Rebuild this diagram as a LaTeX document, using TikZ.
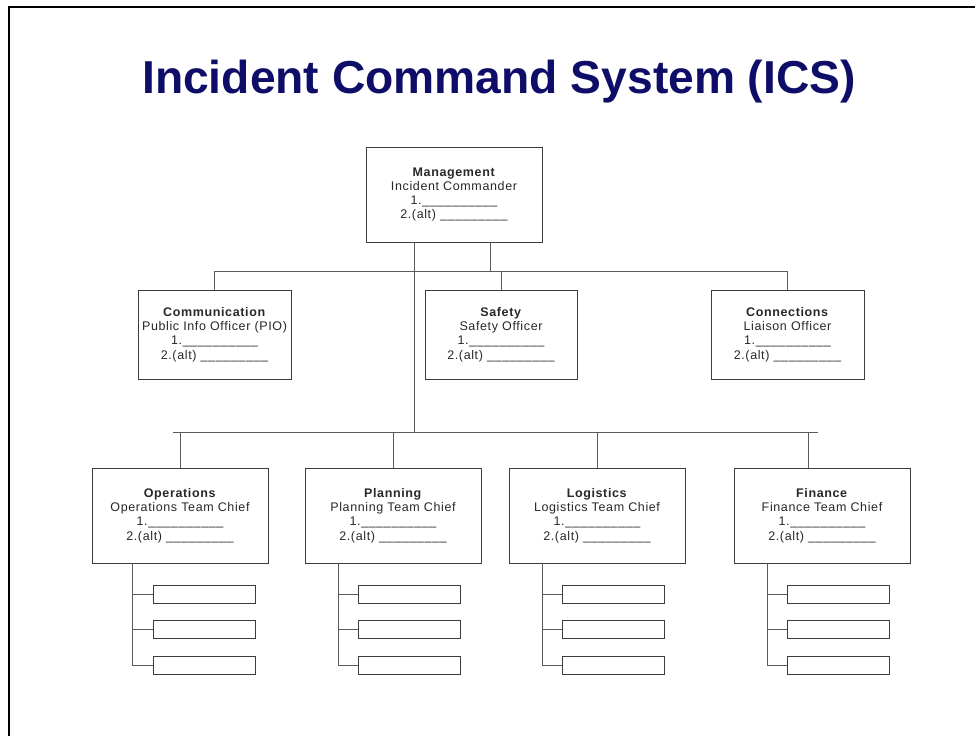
\documentclass[tikz,border=0pt]{standalone}
\usepackage{fontspec}
\setmainfont{Liberation Sans}
\newfontfamily\boxfont[LetterSpace=5]{Liberation Sans}
\definecolor{titleblue}{RGB}{14,14,104}
\definecolor{linegray}{RGB}{90,90,90}
\definecolor{boxgray}{RGB}{60,60,60}
\definecolor{txtgray}{RGB}{40,40,40}
\begin{document}
\begin{tikzpicture}[x=1pt,y=-1pt,
  rolebox/.style={draw=boxgray,line width=0.9pt,fill=white,align=center,inner sep=0pt,
    text=txtgray,font=\boxfont\fontsize{12.5}{14.3}\selectfont},
  bigbox/.style={rolebox,minimum width=176pt,minimum height=95pt},
  midbox/.style={rolebox,minimum width=153pt,minimum height=89pt},
  subbox/.style={draw=boxgray,line width=0.9pt,minimum width=102pt,minimum height=18pt,inner sep=0pt},
  conn/.style={draw=linegray,line width=0.9pt}]
\useasboundingbox (0,0) rectangle (975,736);
\begin{scope}
\clip (0,0) rectangle (975,736);
\draw[line width=2.5pt,black] (9,800) -- (9,7) -- (1000,7);
\end{scope}
\node[font=\fontsize{46.2}{50}\selectfont\bfseries,text=titleblue,anchor=base] (title) at (499,93) {Incident Command System (ICS)};
% top level
\node[bigbox] (mgmt) at (454,194.5) {\textbf{Management}\\Incident Commander\\1.\_\_\_\_\_\_\_\_\_\_\\2.(alt) \_\_\_\_\_\_\_\_\_};
\node[midbox] (comm) at (214.5,334.5) {\textbf{Communication}\\Public Info Officer (PIO)\\1.\_\_\_\_\_\_\_\_\_\_\\2.(alt) \_\_\_\_\_\_\_\_\_};
\node[midbox,minimum width=152pt] (safety) at (501,334.5) {\textbf{Safety}\\Safety Officer\\1.\_\_\_\_\_\_\_\_\_\_\\2.(alt) \_\_\_\_\_\_\_\_\_};
\node[midbox] (conns) at (787.5,334.5) {\textbf{Connections}\\Liaison Officer\\1.\_\_\_\_\_\_\_\_\_\_\\2.(alt) \_\_\_\_\_\_\_\_\_};
\node[bigbox] (ops) at (180,515.5) {\textbf{Operations}\\Operations Team Chief\\1.\_\_\_\_\_\_\_\_\_\_\\2.(alt) \_\_\_\_\_\_\_\_\_};
\node[bigbox] (plan) at (393,515.5) {\textbf{Planning}\\Planning Team Chief\\1.\_\_\_\_\_\_\_\_\_\_\\2.(alt) \_\_\_\_\_\_\_\_\_};
\node[bigbox] (logi) at (597,515.5) {\textbf{Logistics}\\Logistics Team Chief\\1.\_\_\_\_\_\_\_\_\_\_\\2.(alt) \_\_\_\_\_\_\_\_\_};
\node[bigbox] (fin) at (822,515.5) {\textbf{Finance}\\Finance Team Chief\\1.\_\_\_\_\_\_\_\_\_\_\\2.(alt) \_\_\_\_\_\_\_\_\_};
% sub boxes
\foreach \n/\cx in {o/204,p/409,l/613,f/838}{
  \node[subbox] (\n1) at (\cx,594) {};
  \node[subbox] (\n2) at (\cx,629.5) {};
  \node[subbox] (\n3) at (\cx,665) {};
}
% buses
\coordinate (tb) at (0,271);
\coordinate (bl) at (173,432);
\coordinate (br) at (818,432);
\coordinate (mA) at ([xshift=-40pt]mgmt.south);
\coordinate (mB) at ([xshift=36pt]mgmt.south);
\draw[conn] (mA) -- (mA |- bl);
\draw[conn] (mB) -- (mB |- tb);
\draw[conn] (comm.north) -- (comm.north |- tb) -- (conns.north |- tb) -- (conns.north);
\draw[conn] (safety.north) -- (safety.north |- tb);
\draw[conn] (bl) -- (br);
\foreach \b/\dx in {ops/0,plan/0,logi/0,fin/-14}{
  \draw[conn] ([xshift=\dx pt]\b.north) -- ([xshift=\dx pt]\b.north |- bl);
}
% sub trees
\foreach \b/\n/\dx in {ops/o/-48,plan/p/-55,logi/l/-55,fin/f/-55}{
  \coordinate (\n s) at ([xshift=\dx pt]\b.south);
  \draw[conn] (\n s) |- (\n3.west);
  \draw[conn] (\n1.west) -- (\n1.west -| \n s);
  \draw[conn] (\n2.west) -- (\n2.west -| \n s);
}
\end{tikzpicture}
\end{document}
